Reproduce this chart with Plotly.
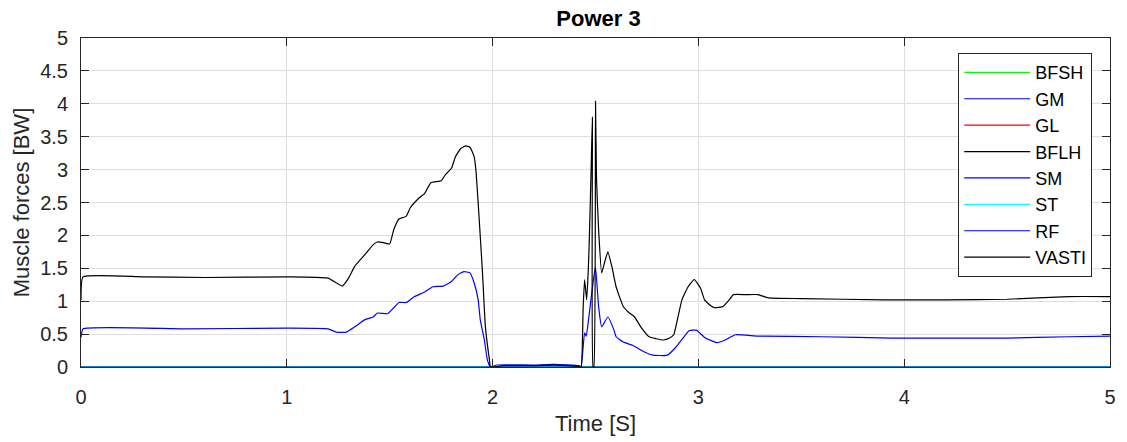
import plotly.graph_objects as go

# ---- data ----
t_zero = [0.0, 5.0]
bfsh = [0.0, 0.0]
gm = [0.0, 0.0]
gl = [0.0, 0.0]
bflh = [0.0, 0.0]
sm = [0.0, 0.0]
st = [0.0, 0.0]

t_rf = [0.0, 0.01, 0.5, 1.0, 1.20, 1.24, 1.29, 1.33, 1.38, 1.42, 1.44, 1.49, 1.52, 1.545, 1.58,
        1.62, 1.67, 1.71, 1.76, 1.80, 1.83, 1.86, 1.89, 1.91, 1.93, 1.94, 1.96, 1.975, 1.99,
        2.02, 2.2, 2.3, 2.42, 2.43, 2.447, 2.455, 2.47, 2.49, 2.50, 2.515, 2.53, 2.56, 2.59,
        2.60, 2.635, 2.68, 2.73, 2.78, 2.85, 2.89, 2.925, 2.955, 2.99, 3.03, 3.09, 3.13,
        3.18, 3.29, 3.6, 3.94, 4.5, 4.8, 5.0]
rf = [0.45, 0.58, 0.58, 0.59, 0.58, 0.53, 0.53, 0.61, 0.72, 0.76, 0.82, 0.81, 0.90, 0.98, 0.98,
      1.07, 1.14, 1.22, 1.23, 1.30, 1.40, 1.45, 1.43, 1.28, 1.02, 0.72, 0.41, 0.10, 0.0,
      0.03, 0.03, 0.04, 0.02, 0.0, 0.52, 0.47, 0.82, 1.33, 1.52, 0.92, 0.61, 0.76, 0.56,
      0.46, 0.38, 0.33, 0.24, 0.18, 0.18, 0.30, 0.44, 0.55, 0.56, 0.45, 0.37, 0.41,
      0.49, 0.47, 0.46, 0.44, 0.44, 0.46, 0.47]

t_vasti = [0.0, 0.01, 0.3, 0.6, 1.0, 1.2, 1.27, 1.30, 1.33, 1.38, 1.42, 1.44, 1.47, 1.50, 1.52,
           1.545, 1.58, 1.60, 1.64, 1.67, 1.70, 1.75, 1.77, 1.80, 1.82, 1.845, 1.87, 1.89,
           1.91, 1.92, 1.935, 1.95, 1.965, 1.985, 1.99, 2.05, 2.2, 2.3, 2.42, 2.43, 2.44,
           2.447, 2.457, 2.465, 2.47, 2.48, 2.485, 2.488, 2.492, 2.5, 2.505, 2.515, 2.53,
           2.545, 2.56, 2.58, 2.60, 2.635, 2.665, 2.69, 2.72, 2.76, 2.795, 2.83, 2.86, 2.88,
           2.90, 2.92, 2.95, 2.98, 3.01, 3.03, 3.06, 3.08, 3.12, 3.15, 3.17, 3.23, 3.29,
           3.34, 3.5, 3.9, 4.2, 4.5, 4.8, 5.0]
vasti = [1.02, 1.37, 1.37, 1.36, 1.37, 1.35, 1.23, 1.35, 1.53, 1.71, 1.86, 1.90, 1.89, 1.87, 2.09,
         2.25, 2.29, 2.42, 2.56, 2.64, 2.80, 2.83, 2.92, 3.02, 3.20, 3.32, 3.36, 3.34,
         3.20, 2.95, 2.24, 1.48, 0.61, 0.10, 0.0, 0.02, 0.02, 0.03, 0.01, 0.0, 0.90,
         1.33, 1.02, 1.48, 1.94, 3.16, 3.80, 0.0, 0.0, 4.04, 2.85, 2.09, 1.43,
         1.60, 1.75, 1.52, 1.22, 0.92, 0.82, 0.76, 0.61, 0.46, 0.43, 0.41, 0.44, 0.49,
         0.75, 1.02, 1.22, 1.33, 1.20, 1.02, 0.93, 0.90, 0.92, 1.02, 1.10, 1.10, 1.10,
         1.05, 1.04, 1.02, 1.02, 1.03, 1.07, 1.07]

series = [
    ("BFSH", t_zero, bfsh, "#00ff00"),
    ("GM", t_zero, gm, "#0000ff"),
    ("GL", t_zero, gl, "#ff0000"),
    ("BFLH", t_zero, bflh, "#000000"),
    ("SM", t_zero, sm, "#0000ff"),
    ("ST", t_zero, st, "#00ffff"),
    ("RF", t_rf, rf, "#0000ff"),
    ("VASTI", t_vasti, vasti, "#000000"),
]

x_ticks = [0, 1, 2, 3, 4, 5]
y_ticks = [0, 0.5, 1, 1.5, 2, 2.5, 3, 3.5, 4, 4.5, 5]

fig = go.Figure()
for name, tx, ty, col in series:
    fig.add_trace(go.Scatter(x=tx, y=ty, mode="lines", name=name,
                             line=dict(color=col, width=1.2, shape="spline", smoothing=0.4)))

axis_common = dict(showline=True, linecolor="#262626", linewidth=1, mirror="ticks",
                   ticks="inside", ticklen=8, tickcolor="#262626",
                   showgrid=True, gridcolor="#dedede", gridwidth=1, zeroline=False,
                   tickfont=dict(family="Liberation Sans", size=20, color="#262626"))

fig.update_layout(
    width=1127, height=442,
    margin=dict(l=81, r=11, t=38, b=75),
    paper_bgcolor="white", plot_bgcolor="white",
    title=dict(text="<b>Power 3</b>", x=(81 + 1116) / 2 / 1127, xanchor="center",
               y=1 - 18 / 442, yanchor="middle", yref="container",
               font=dict(family="Liberation Sans", size=22, color="#000000")),
    showlegend=True,
    legend=dict(x=0.8525, y=0.954, xanchor="left", yanchor="top",
                bgcolor="white", bordercolor="#262626", borderwidth=1,
                font=dict(family="Liberation Sans", size=18, color="#000000"),
                tracegroupgap=0, itemwidth=66, entrywidth=60, entrywidthmode="pixels"),
)
fig.update_xaxes(range=[0, 5], tickvals=x_ticks, ticklabelstandoff=12,
                 title=dict(text="Time [S]", standoff=8,
                            font=dict(family="Liberation Sans", size=22, color="#262626")),
                 **axis_common)
fig.update_yaxes(range=[0, 5], tickvals=y_ticks, ticklabelstandoff=8,
                 title=dict(text="Muscle forces [BW]", standoff=4,
                            font=dict(family="Liberation Sans", size=22, color="#262626")),
                 **axis_common)

fig.write_html("out.html")
